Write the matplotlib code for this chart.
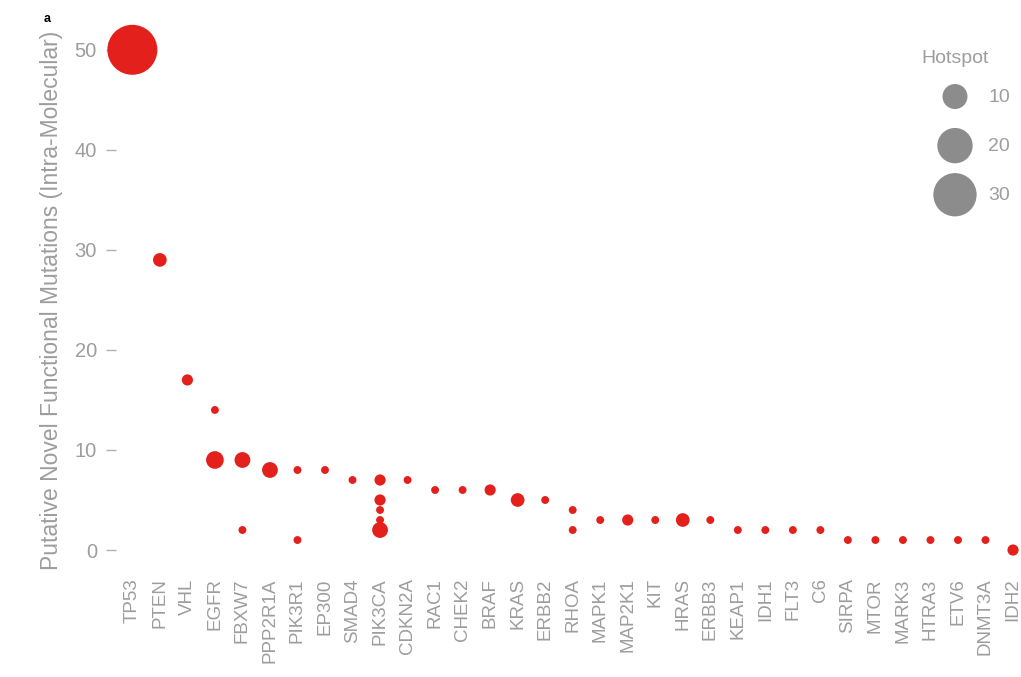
import matplotlib
matplotlib.use("Agg")
import matplotlib.pyplot as plt

plt.rcParams['font.family'] = ['Liberation Sans', 'DejaVu Sans']

genes = ['TP53', 'PTEN', 'VHL', 'EGFR', 'FBXW7', 'PPP2R1A', 'PIK3R1', 'EP300',
         'SMAD4', 'PIK3CA', 'CDKN2A', 'RAC1', 'CHEK2', 'BRAF', 'KRAS', 'ERBB2',
         'RHOA', 'MAPK1', 'MAP2K1', 'KIT', 'HRAS', 'ERBB3', 'KEAP1', 'IDH1',
         'FLT3', 'C6', 'SIRPA', 'MTOR', 'MARK3', 'HTRA3', 'ETV6', 'DNMT3A', 'IDH2']

# one row per point: gene, number of mutations, hotspot size
point_gene = ['TP53', 'PTEN', 'VHL', 'EGFR', 'EGFR', 'FBXW7', 'FBXW7', 'PPP2R1A',
              'PIK3R1', 'PIK3R1', 'EP300', 'SMAD4',
              'PIK3CA', 'PIK3CA', 'PIK3CA', 'PIK3CA', 'PIK3CA',
              'CDKN2A', 'RAC1', 'CHEK2', 'BRAF', 'KRAS', 'ERBB2', 'RHOA', 'RHOA',
              'MAPK1', 'MAP2K1', 'KIT', 'HRAS', 'ERBB3', 'KEAP1', 'IDH1', 'FLT3',
              'C6', 'SIRPA', 'MTOR', 'MARK3', 'HTRA3', 'ETV6', 'DNMT3A', 'IDH2']
mutations = [50, 29, 17, 14, 9, 9, 2, 8,
             8, 1, 8, 7,
             7, 5, 4, 3, 2,
             7, 6, 6, 6, 5, 5, 4, 2,
             3, 3, 3, 3, 3, 2, 2, 2,
             2, 1, 1, 1, 1, 1, 1, 0]
hotspot = [40, 3, 2, 1, 5, 4, 1, 4,
           1, 1, 1, 1,
           2, 2, 1, 1, 4,
           1, 1, 1, 2, 3, 1, 1, 1,
           1, 2, 1, 3, 1, 1, 1, 1,
           1, 1, 1, 1, 1, 1, 1, 2]

legend_sizes = [10, 20, 30]

red = '#e3201b'
grey_text = '#9d9d9d'
size_scale = 32.4

fig = plt.figure(figsize=(10.21, 6.77), dpi=100)
ax = fig.add_axes([0.114, 0.158, 0.886, 0.798])

xpos = [genes.index(g) for g in point_gene]
ax.scatter(xpos, mutations, s=[h * size_scale for h in hotspot],
           color=red, edgecolors='none', zorder=3, clip_on=False)

ax.set_xlim(-0.58, 32.29)
ax.set_ylim(-2, 52)
ax.set_xticks(range(len(genes)))
ax.set_xticklabels(genes, rotation=90)
ax.set_yticks([0, 10, 20, 30, 40, 50])
ax.tick_params(axis='x', length=0, pad=6, labelsize=13.5, labelcolor=grey_text)
ax.tick_params(axis='y', length=7, width=1, color='#b0b0b0', pad=7,
               labelsize=14.5, labelcolor=grey_text)
for sp in ax.spines.values():
    sp.set_visible(False)

ax.set_ylabel('Putative Novel Functional Mutations (Intra-Molecular)',
              fontsize=16.5, color=grey_text, labelpad=8)

handles = [ax.scatter([], [], s=v * size_scale, color='#8c8c8c', edgecolors='none')
           for v in legend_sizes]
leg = fig.legend(handles, [str(v) for v in legend_sizes],
                 loc='upper left', bbox_to_anchor=(0.9163, 0.870),
                 frameon=False, borderpad=0, borderaxespad=0,
                 labelspacing=1.62, handletextpad=0.7,
                 fontsize=14, labelcolor=grey_text)
fig.text(0.935, 0.914, 'Hotspot', fontsize=14, color=grey_text,
         ha='center', va='center')

fig.text(0.043, 0.968, 'a', fontsize=9, fontweight='bold', color='black')

fig.savefig('out.png', dpi=100)
